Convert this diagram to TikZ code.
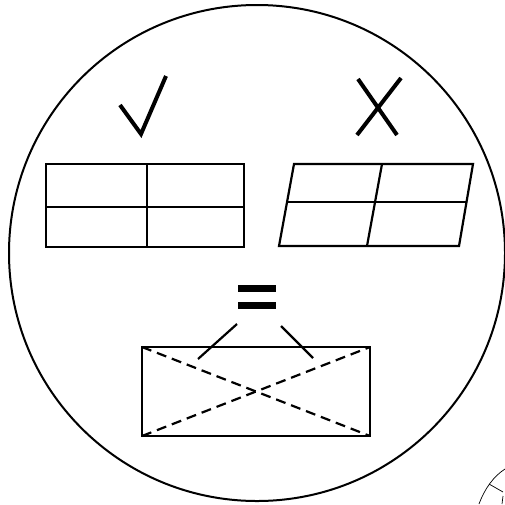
\documentclass[tikz,border=0pt]{standalone}
\begin{document}
\begin{tikzpicture}[x=1pt,y=-1pt,
  line/.style={line width=2.2pt,line join=miter},
  symstroke/.style={line width=4pt},
  dashline/.style={line width=2.2pt,dash pattern=on 10pt off 6pt},
  thinline/.style={line width=0.7pt}]
\useasboundingbox (0,0) rectangle (505,504);
% big circle
\node[draw,circle,line width=2pt,minimum size=496pt,inner sep=0pt] (big) at (257,253) {};
% check mark
\coordinate (c1) at (120,105); \coordinate (c2) at (141,134); \coordinate (c3) at (166,76);
\draw[symstroke,line join=miter] (c1) -- (c2) -- (c3);
% cross
\coordinate (x1) at (358,79); \coordinate (x2) at (397,135);
\coordinate (x3) at (401,78); \coordinate (x4) at (357,135);
\draw[symstroke] (x1) -- (x2);
\draw[symstroke] (x3) -- (x4);
% left grid
\coordinate (la) at (46,164); \coordinate (lb) at (244,247);
\draw[line] (la) rectangle (lb);
\coordinate (lh1) at (46,207); \coordinate (lh2) at (244,207);
\coordinate (lv1) at (147,164); \coordinate (lv2) at (147,247);
\draw[line] (lh1) -- (lh2);
\draw[line] (lv1) -- (lv2);
% right parallelogram
\coordinate (p1) at (294,164); \coordinate (p2) at (473,164);
\coordinate (p3) at (459,246); \coordinate (p4) at (279,246);
\draw[line] (p1) -- (p2) -- (p3) -- (p4) -- cycle;
\coordinate (ph1) at (287,202); \coordinate (ph2) at (466,202);
\coordinate (pv1) at (382,164); \coordinate (pv2) at (367,246);
\draw[line] (ph1) -- (ph2);
\draw[line] (pv1) -- (pv2);
% equals sign
\fill (238,285) rectangle (276,292);
\fill (238,302) rectangle (276,309);
% lines
\coordinate (e1) at (237,324); \coordinate (e2) at (198,359);
\coordinate (e3) at (281,326); \coordinate (e4) at (313,358);
\draw[line] (e1) -- (e2);
\draw[line] (e3) -- (e4);
% bottom rectangle
\coordinate (r1) at (142,347); \coordinate (r2) at (370,347);
\coordinate (r3) at (370,436); \coordinate (r4) at (142,436);
\draw[line] (r1) rectangle (r3);
\draw[dashline] (r1) -- (r3);
\draw[dashline] (r4) -- (r2);
% corner fragment
\coordinate (f1) at (479,504); \coordinate (f2) at (505,469);
\draw[thinline] (f1) .. controls (485,488) and (494,476) .. (f2);
\coordinate (g1) at (489,484); \coordinate (g2) at (503,492);
\draw[thinline] (g1) -- (g2);
\coordinate (h1) at (503,496); \coordinate (h2) at (502,504);
\draw[thinline] (h1) -- (h2);
\end{tikzpicture}
\end{document}
